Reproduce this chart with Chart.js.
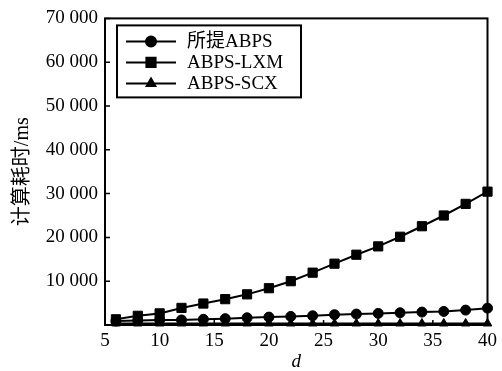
<!DOCTYPE html>
<html>
<head>
<meta charset="utf-8">
<script src="https://cdn.jsdelivr.net/npm/chart.js@4.4.0/dist/chart.umd.min.js"></script>
<style>
  html, body { margin: 0; padding: 0; background: #fff; }
  #wrap { width: 502px; height: 371px; }
</style>
</head>
<body>
<div id="wrap"><canvas id="chart"></canvas></div>
<script>
// d values (x axis)
const dValues = [6, 8, 10, 12, 14, 16, 18, 20, 22, 24, 26, 28, 30, 32, 34, 36, 38, 40]
// computation time in ms
const oursTimes = [900, 1000, 1150, 1150, 1300, 1450, 1650, 1800, 1950, 2100, 2350, 2500, 2650, 2800, 2950, 3100, 3400, 3850]
const lxmTimes = [1300, 2100, 2650, 3900, 4900, 5900, 7000, 8400, 10000, 11950, 14000, 16050, 17950, 20150, 22550, 25000, 27650, 30450]
const scxTimes = [350, 350, 350, 350, 350, 350, 350, 350, 350, 350, 350, 350, 350, 350, 350, 350, 350, 350]
const seriesNames = ['所提ABPS', 'ABPS-LXM', 'ABPS-SCX']

const serif = "'Liberation Serif', 'Times New Roman', 'Noto Sans CJK SC', serif"

function toPoints(ys) {
  return dValues.map((d, i) => ({ x: d, y: ys[i] }))
}

function fmt(v) {
  if (v === 0) return ''
  return String(v).replace(/\B(?=(\d{3})+(?!\d))/g, ' ')
}

// box round the plot with inward ticks
const frame = {
  id: 'frame',
  beforeDatasetsDraw(chart) {
    const { ctx, chartArea: a } = chart
    const x = chart.scales.x
    const y = chart.scales.y
    ctx.save()
    ctx.strokeStyle = '#000'
    ctx.lineWidth = 2
    ctx.strokeRect(a.left, a.top, a.right - a.left, a.bottom - a.top)
    ctx.lineWidth = 1.5
    ctx.beginPath()
    for (let t of x.ticks) {
      const px = x.getPixelForValue(t.value)
      ctx.moveTo(px, a.bottom)
      ctx.lineTo(px, a.bottom - 5)
    }
    for (let t of y.ticks) {
      const py = y.getPixelForValue(t.value)
      ctx.moveTo(a.left, py)
      ctx.lineTo(a.left + 5, py)
    }
    ctx.stroke()
    ctx.restore()
  },
}

// legend with line + marker
const legendBox = {
  id: 'legendBox',
  afterDraw(chart) {
    const { ctx, chartArea: a } = chart
    const bx = a.left + 12
    const by = a.top + 7
    const bw = 184
    const bh = 72
    ctx.save()
    ctx.fillStyle = '#fff'
    ctx.fillRect(bx, by, bw, bh)
    ctx.strokeStyle = '#000'
    ctx.lineWidth = 2
    ctx.strokeRect(bx, by, bw, bh)
    ctx.font = `19px ${serif}`
    ctx.textBaseline = 'middle'
    chart.data.datasets.forEach((ds, i) => {
      const cy = by + 16 + i * 21
      ctx.strokeStyle = '#000'
      ctx.fillStyle = '#000'
      ctx.lineWidth = 2
      ctx.beginPath()
      ctx.moveTo(bx + 9, cy)
      ctx.lineTo(bx + 59, cy)
      ctx.stroke()
      Chart.helpers.drawPoint(ctx, {
        pointStyle: ds.pointStyle,
        radius: ds.pointRadius,
        rotation: 0,
        borderWidth: 1,
      }, bx + 34, cy)
      ctx.fillStyle = '#000'
      ctx.fillText(ds.label, bx + 70, cy + 1)
    })
    ctx.restore()
  },
}

function makeSet(label, ys, style, r) {
  return {
    label: label,
    data: toPoints(ys),
    borderColor: '#000',
    backgroundColor: '#000',
    borderWidth: 2,
    pointStyle: style,
    pointRadius: r,
    pointHoverRadius: r,
    pointBorderWidth: 1,
    clip: false,
  }
}

new Chart(document.getElementById('chart'), {
  type: 'line',
  data: {
    datasets: [
      makeSet(seriesNames[0], oursTimes, 'circle', 5),
      makeSet(seriesNames[1], lxmTimes, 'rect', 6.5),
      makeSet(seriesNames[2], scxTimes, 'triangle', 5),
    ],
  },
  options: {
    responsive: true,
    maintainAspectRatio: false,
    animation: false,
    layout: { padding: { left: 0, right: 12, top: 17, bottom: 0 } },
    plugins: {
      legend: { display: false },
      tooltip: { enabled: false },
    },
    scales: {
      x: {
        type: 'linear',
        min: 5,
        max: 40,
        grid: { display: false, drawTicks: false },
        border: { display: false },
        ticks: { stepSize: 5, color: '#000', padding: 5, font: { family: serif, size: 19 } },
        title: {
          display: true,
          text: 'd',
          color: '#000',
          padding: { top: 0, bottom: 0 },
          font: { family: serif, size: 19, style: 'italic', lineHeight: 1 },
        },
        afterFit(scale) { scale.height = 46 },
      },
      y: {
        min: 0,
        max: 70000,
        grid: { display: false, drawTicks: false },
        border: { display: false },
        ticks: {
          stepSize: 10000,
          color: '#000',
          padding: 7,
          font: { family: serif, size: 19 },
          callback: (v) => fmt(v),
        },
        title: {
          display: true,
          text: '计算耗时/ms',
          color: '#000',
          padding: { top: 11, bottom: 0 },
          font: { family: serif, size: 20 },
        },
        afterFit(scale) { scale.width = 105 },
      },
    },
  },
  plugins: [frame, legendBox],
})
</script>
</body>
</html>
